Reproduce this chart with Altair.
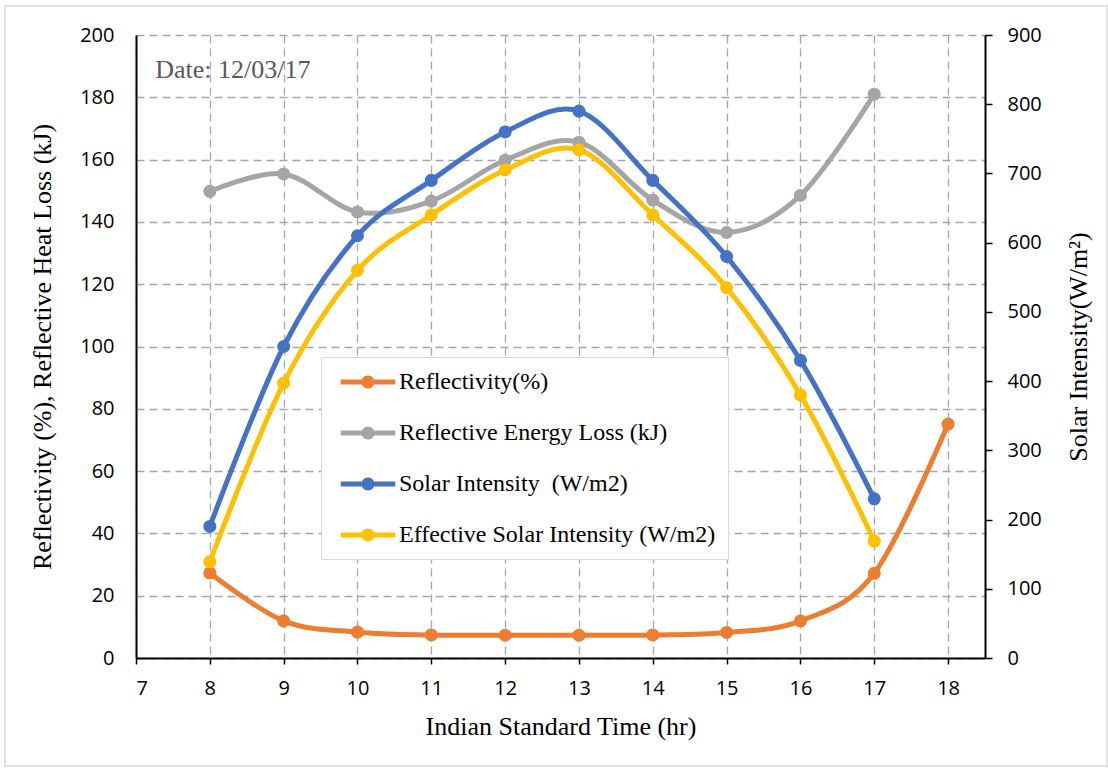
import altair as alt
import pandas as pd

# Hourly readings (12/03/17)
hours = [8, 9, 10, 11, 12, 13, 14, 15, 16, 17, 18]
reflectivity = [27.3, 11.9, 8.3, 7.4, 7.3, 7.3, 7.4, 8.2, 11.9, 27.2, 75.1]

hours_day = [8, 9, 10, 11, 12, 13, 14, 15, 16, 17]
energy_loss = [149.8, 155.4, 143.2, 146.7, 159.8, 165.6, 147.0, 136.6, 148.5, 181.0]
solar_intensity = [190, 450, 610, 690, 760, 790, 690, 580, 430, 230]
effective_intensity = [139, 397, 560, 640, 705, 734, 640, 535, 380, 169]

series_names = [
    "Reflectivity(%)",
    "Reflective Energy Loss (kJ)",
    "Solar Intensity\u00a0 (W/m2)",
    "Effective Solar Intensity (W/m2)",
]
series_colors = ["#ED7D31", "#A5A5A5", "#4472C4", "#FFC000"]

x_ticks = [7, 8, 9, 10, 11, 12, 13, 14, 15, 16, 17, 18]
left_ticks = [0, 20, 40, 60, 80, 100, 120, 140, 160, 180, 200]
right_ticks = [0, 100, 200, 300, 400, 500, 600, 700, 800, 900]


def long_table(xs, ys, i):
    return pd.DataFrame(
        {"hour": xs, "value": ys, "series": series_names[i], "hex": series_colors[i]}
    )


left_df = pd.concat([
    long_table(hours, reflectivity, 0),
    long_table(hours_day, energy_loss, 1),
])
right_df = pd.concat([
    long_table(hours_day, solar_intensity, 2),
    long_table(hours_day, effective_intensity, 3),
])
note_df = pd.DataFrame({"hour": [7.26], "value": [188.8], "text": ["Date: 12/03/17"]})

SERIF = "Liberation Serif"
SANS = "Open Sans"
GRID = dict(grid=True, gridColor="#a6a6a6", gridDash=[8, 5], gridWidth=1.3)

# Legend symbol: a short thick line with a dot in the middle
legend_symbol = (
    "M-2.1,-0.19H-0.46V0.19H-2.1Z "
    "M0.46,-0.19H2.1V0.19H0.46Z "
    "M-0.5,0A0.5,0.5 0 1,1 0.5,0A0.5,0.5 0 1,1 -0.5,0Z"
)

x_enc = alt.X(
    "hour:Q",
    scale=alt.Scale(domain=[7, 18.5], nice=False, zero=False),
    axis=alt.Axis(
        values=x_ticks, title="Indian Standard Time (hr)", format="d",
        tickSize=6, labelPadding=14, titlePadding=15, **GRID,
    ),
)

# Lines take their colour straight from the table (no scale, so no legend)
stroke_enc = alt.Stroke("hex:N", scale=None)
fill_enc = alt.Fill(
    "series:N",
    scale=alt.Scale(domain=series_names, range=series_colors),
    legend=alt.Legend(
        orient="none", legendX=185, legendY=322, title=None,
        fillColor="white", strokeColor="#d9d9d9", padding=12,
        symbolType=legend_symbol, symbolSize=676, symbolOffset=22,
        symbolOpacity=1, symbolStrokeWidth=0,
        labelOffset=18, labelFont=SERIF, labelFontSize=24, labelColor="black",
        labelLimit=400, rowPadding=26,
    ),
)

y_left = alt.Y(
    "value:Q",
    scale=alt.Scale(domain=[0, 200], nice=False),
    axis=alt.Axis(
        values=left_ticks, title="Reflectivity (%), Reflective Heat Loss (kJ)",
        ticks=False, labelPadding=22, titlePadding=24, **GRID,
    ),
)
y_right = alt.Y(
    "value:Q",
    scale=alt.Scale(domain=[0, 900], nice=False),
    axis=alt.Axis(
        values=right_ticks, title="Solar Intensity(W/m\u00b2)", orient="right",
        grid=False, tickSize=7, labelPadding=15, titlePadding=24,
        titleAngle=270, titleBaseline="top",
    ),
)

line_style = dict(strokeWidth=5, interpolate="cardinal")
dot_style = dict(size=170, opacity=1)

left_layer = alt.layer(
    alt.Chart(left_df).mark_line(**line_style).encode(x=x_enc, y=y_left, stroke=stroke_enc, detail="series:N"),
    alt.Chart(left_df).mark_circle(**dot_style).encode(x=x_enc, y=y_left, fill=fill_enc),
    alt.Chart(note_df).mark_text(
        align="left", baseline="middle", font=SERIF, fontSize=26, color="#595959"
    ).encode(x=x_enc, y=y_left, text="text:N"),
)
right_layer = alt.layer(
    alt.Chart(right_df).mark_line(**line_style).encode(x=x_enc, y=y_right, stroke=stroke_enc, detail="series:N"),
    alt.Chart(right_df).mark_circle(**dot_style).encode(x=x_enc, y=y_right, fill=fill_enc),
)

# Light frame around the whole chart area
frame = alt.Chart(pd.DataFrame({"k": [0]})).mark_rect(
    filled=False, stroke="#d9d9d9", strokeWidth=1.5
).encode(
    x=alt.value(-131), x2=alt.value(971), y=alt.value(-29), y2=alt.value(731)
)

chart = alt.layer(frame, left_layer, right_layer).resolve_scale(
    y="independent"
).properties(
    width=849, height=623,
    autosize=alt.AutoSizeParams(type="none"),
    padding={"left": 136, "top": 35, "right": 123, "bottom": 111},
    background="white",
).configure_view(
    stroke=None
).configure_axis(
    labelFont=SANS, labelFontSize=20, labelColor="black",
    titleFont=SERIF, titleFontSize=26, titleFontWeight="normal", titleColor="black",
    domainColor="black", domainWidth=2, tickColor="black", tickWidth=1.5,
)

chart.save("out.html", embed_options={"renderer": "svg", "actions": False})
